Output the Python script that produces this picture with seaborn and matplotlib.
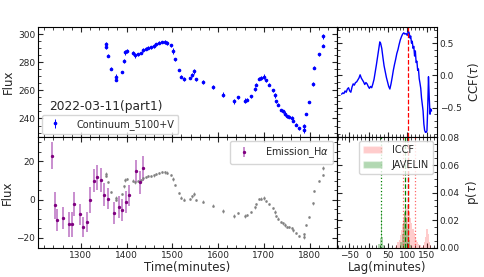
import numpy as np
import pandas as pd
import matplotlib
matplotlib.use("Agg")
import matplotlib.pyplot as plt
from matplotlib.ticker import AutoMinorLocator, MultipleLocator
from matplotlib.patches import Patch
import seaborn as sns

sns.set_style("ticks")
plt.rcParams['font.family'] = ['DejaVu Sans']

# ---------------- data ----------------
cont_time = [1354, 1355, 1360, 1366, 1376, 1377, 1389, 1394, 1397, 1401, 1414, 1418, 1424, 1431,
             1436, 1442, 1447, 1453, 1461, 1465, 1472, 1478, 1484, 1489, 1497, 1501, 1505, 1514,
             1520, 1526, 1538, 1544, 1547, 1551, 1568, 1590, 1611, 1636, 1643, 1658, 1663, 1671,
             1680, 1682, 1689, 1694, 1700, 1705, 1711, 1720, 1724, 1727, 1732, 1738, 1743, 1746,
             1751, 1756, 1762, 1765, 1771, 1777, 1788, 1789, 1793, 1799, 1807, 1810, 1820, 1829, 1830]
cont_flux = [293.0, 290.8, 284.7, 275.3, 269.8, 267.5, 273.0, 280.8, 287.0, 288.0, 286.4, 284.8,
             285.6, 286.5, 288.5, 289.5, 290.3, 290.6, 291.5, 292.8, 293.9, 294.3, 294.5, 293.8,
             292.0, 288.0, 282.0, 274.5, 269.8, 268.0, 268.7, 271.0, 273.5, 267.8, 265.8, 262.3,
             257.0, 252.2, 255.0, 252.5, 253.4, 255.7, 260.8, 264.0, 268.3, 268.9, 269.8, 267.0,
             264.0, 260.0, 256.4, 252.2, 249.8, 246.0, 245.0, 243.5, 241.6, 241.3, 240.6, 238.4,
             235.7, 232.9, 234.8, 231.8, 243.2, 251.7, 264.4, 276.2, 285.7, 291.7, 298.5]
cont_err = [1.5, 1.5, 1.0, 1.0, 1.5, 1.2, 1.0, 1.2, 1.8, 1.2, 1.2, 1.5, 1.0, 1.0, 1.5, 1.0, 1.0,
            1.0, 1.5, 1.0, 1.0, 1.0, 1.5, 1.5, 1.0, 2.0, 1.0, 1.0, 1.2, 1.5, 1.0, 1.2, 1.8, 1.0,
            1.5, 1.5, 1.8, 1.8, 1.2, 1.8, 1.2, 1.0, 1.5, 1.0, 1.0, 1.5, 1.8, 1.0, 1.0, 1.0, 1.8,
            1.2, 1.0, 1.0, 1.0, 1.5, 1.0, 1.0, 1.0, 1.2, 1.0, 1.0, 1.5, 1.8, 1.0, 1.0, 1.5, 1.2,
            1.0, 1.0, 1.8]

ha_time = [1237, 1243, 1249, 1260, 1274, 1280, 1285, 1298, 1304, 1314, 1320, 1329, 1335, 1344,
           1350, 1360, 1373, 1384, 1391, 1398, 1405, 1421, 1429, 1435]
ha_flux = [23.0, -3.0, -10.8, -9.5, -12.8, -12.8, -2.2, -7.6, -14.2, -11.6, -0.1, 10.0, 11.7,
           10.3, 2.6, 0.5, -6.8, -3.8, -5.4, -1.2, 2.2, 15.0, 9.1, 16.4]
ha_err = [6.9, 6.9, 5.8, 5.6, 6.5, 6.5, 6.3, 5.6, 5.2, 5.2, 6.8, 6.0, 6.5, 6.5, 6.0, 5.6, 5.8,
          5.6, 5.6, 5.6, 5.6, 5.8, 6.0, 6.5]

# continuum rescaled onto the H-alpha flux scale (gray points)
cont_scale = 0.5425
cont_ref = 294.3
ha_ref = 14.3

ccf_lag = [-70, -67, -64, -61, -58, -55, -52, -49, -46, -43, -40, -37, -34, -31, -28, -25, -22,
           -19, -16, -13, -10, -7, -4, -1, 2, 5, 8, 11, 14, 17, 20, 23, 26, 29, 31, 34, 37, 40,
           43, 46, 49, 52, 55, 58, 61, 64, 67, 70, 73, 76, 79, 82, 85, 88, 91, 94, 97, 100, 103,
           105, 107, 109, 111, 113, 115, 117, 119, 121, 123, 125, 127, 129, 131, 133, 135, 137,
           139, 141, 143, 145, 147, 149, 151, 153, 155, 157, 159, 161, 163]
ccf_val = [-0.29, -0.27, -0.28, -0.24, -0.26, -0.21, -0.19, -0.24, -0.26, -0.18, -0.13, -0.15,
           -0.11, -0.10, -0.07, -0.04, 0.01, -0.04, -0.07, -0.10, -0.14, -0.11, -0.13, -0.17,
           -0.20, -0.17, -0.19, -0.13, -0.06, 0.05, 0.16, 0.28, 0.40, 0.52, 0.50, 0.42, 0.28,
           0.15, 0.06, -0.03, -0.10, -0.17, -0.21, -0.13, -0.03, 0.08, 0.17, 0.25, 0.34, 0.40,
           0.48, 0.55, 0.60, 0.64, 0.66, 0.64, 0.65, 0.62, 0.68, 0.66, 0.58, 0.61, 0.50, 0.53,
           0.42, 0.45, 0.30, 0.38, 0.20, 0.22, 0.08, 0.10, -0.05, -0.12, -0.20, -0.35, -0.45,
           -0.55, -0.75, -0.85, -0.88, -0.88, -0.86, -0.50, -0.02, -0.35, -0.60, -0.52, -0.55]

iccf_lag = [70, 73, 76, 79, 82, 85, 88, 91, 94, 97, 100, 103, 106, 109, 112, 115, 118, 121, 124,
            127, 130, 133, 136, 139, 142, 145, 148, 151, 154, 157, 160]
iccf_p = [0.001, 0.002, 0.004, 0.006, 0.009, 0.013, 0.017, 0.021, 0.025, 0.028, 0.031, 0.030,
          0.026, 0.022, 0.018, 0.014, 0.011, 0.008, 0.006, 0.004, 0.003, 0.002, 0.001, 0.001,
          0.002, 0.004, 0.008, 0.014, 0.010, 0.004, 0.002]
jav_lag = [27, 30, 33, 36, 39, 84, 87, 90, 93, 96, 99, 102, 105, 108]
jav_p = [0.003, 0.007, 0.027, 0.008, 0.002, 0.004, 0.010, 0.018, 0.026, 0.028, 0.022, 0.014,
         0.006, 0.002]

iccf_lines = {"lo": 88, "med": 102, "hi": 120}
jav_lines = {"lo": 33, "med": 93, "hi": 101}

# ---------------- figure ----------------
fig = plt.figure(figsize=(4.85, 2.77), dpi=100)
gs = fig.add_gridspec(2, 2, width_ratios=[299, 100], left=0.078, right=0.901,
                      top=0.9025, bottom=0.105, hspace=0, wspace=0)
ax1 = fig.add_subplot(gs[0, 0])
ax2 = fig.add_subplot(gs[1, 0], sharex=ax1)
ax3 = fig.add_subplot(gs[0, 1])
ax4 = fig.add_subplot(gs[1, 1], sharex=ax3)

TICK = 6.5
LAB = 8.5

for ax in (ax1, ax2, ax3, ax4):
    ax.tick_params(which='both', direction='in', top=True, right=True, left=True, bottom=True,
                   labelsize=TICK, pad=2)
    ax.tick_params(which='major', length=3.5, width=0.8)
    ax.tick_params(which='minor', length=2, width=0.6)
    for s in ax.spines.values():
        s.set_linewidth(0.8)
        s.set_color('black')

# top-left continuum
ax1.errorbar(cont_time, cont_flux, yerr=cont_err, fmt='o', ms=1.6, color='blue',
             elinewidth=0.7, capsize=0, label='Continuum_5100+V')
ax1.set_ylim(226.5, 305)
ax1.set_xlim(1206, 1860)
ax1.yaxis.set_major_locator(MultipleLocator(20))
ax1.set_ylabel('Flux', fontsize=LAB, labelpad=2)
ax1.tick_params(labelbottom=False)
ax1.text(0.037, 0.225, '2022-03-11(part1)', transform=ax1.transAxes, fontsize=LAB + 0.3,
         ha='left', va='bottom')
ax1.legend(loc='lower left', fontsize=7, frameon=True, borderaxespad=0.4,
           handletextpad=1.2)

# bottom-left H-alpha
gray = [ha_ref + cont_scale * (f - cont_ref) for f in cont_flux]
gray_err = [cont_scale * e for e in cont_err]
ax2.errorbar(cont_time, gray, yerr=gray_err, fmt='o', ms=1.0, color='gray',
             elinewidth=0.6, capsize=0, alpha=0.8)
ax2.errorbar(ha_time, ha_flux, yerr=ha_err, fmt='o', ms=1.4, color='purple',
             ecolor=(0.62, 0.2, 0.66, 0.55), elinewidth=1.4, capsize=0,
             label=r'Emission_H$\alpha$')
ax2.set_ylim(-25.2, 32.5)
ax2.yaxis.set_major_locator(MultipleLocator(20))
ax2.xaxis.set_major_locator(MultipleLocator(100))
ax2.set_ylabel('Flux', fontsize=LAB, labelpad=2)
ax2.set_xlabel('Time(minutes)', fontsize=LAB, labelpad=1)
ax2.legend(loc='upper right', fontsize=7, frameon=True, borderaxespad=0.4,
           handletextpad=1.2)

# top-right CCF
ccf_df = pd.DataFrame({'lag': ccf_lag, 'ccf': ccf_val})
sns.lineplot(data=ccf_df, x='lag', y='ccf', ax=ax3, color='blue', linewidth=1.0)
ax3.axvline(iccf_lines['med'], color='red', ls='--', lw=0.9)
ax3.set_ylim(-0.96, 0.75)
ax3.set_xlim(-82, 177)
ax3.yaxis.set_major_locator(MultipleLocator(0.5))
ax3.set_xlabel('')
ax3.set_ylabel(r'CCF($\tau$)', fontsize=LAB, labelpad=3)
ax3.yaxis.set_label_position('right')
ax3.tick_params(labelleft=False, labelright=True, labelbottom=False)

# bottom-right lag distributions
bw = 3
iccf_df = pd.DataFrame({'lag': iccf_lag, 'p': iccf_p})
jav_df = pd.DataFrame({'lag': jav_lag, 'p': jav_p})
sns.histplot(data=iccf_df, x='lag', weights='p', binwidth=bw,
             binrange=(min(iccf_lag) - bw / 2, max(iccf_lag) + bw / 2), ax=ax4, color='red',
             alpha=0.2, linewidth=0, stat='count', element='step', fill=True)
sns.histplot(data=jav_df, x='lag', weights='p', binwidth=bw,
             binrange=(min(jav_lag) - bw / 2, max(jav_lag) + bw / 2), ax=ax4, color='green',
             alpha=0.3, linewidth=0, stat='count', element='step', fill=True)
ax4.axvline(iccf_lines['lo'], color='red', ls=':', lw=0.9, alpha=0.6)
ax4.axvline(iccf_lines['hi'], color='red', ls=':', lw=0.9, alpha=0.6)
ax4.axvline(jav_lines['lo'], color='green', ls=':', lw=0.9)
ax4.axvline(jav_lines['med'], color='green', ls='--', lw=0.9)
ax4.axvline(jav_lines['hi'], color='green', ls='--', lw=0.9)
ax4.axvline(iccf_lines['med'], color='red', ls='--', lw=0.9)
ax4.set_ylim(0, 0.08)
ax4.yaxis.set_major_locator(MultipleLocator(0.02))
ax4.xaxis.set_major_locator(MultipleLocator(50))
ax4.set_xlim(-82, 177)
ax4.set_xlabel('Lag(minutes)', fontsize=LAB, labelpad=1)
ax4.set_ylabel(r'p($\tau$)', fontsize=LAB, labelpad=3)
ax4.yaxis.set_label_position('right')
ax4.tick_params(labelleft=False, labelright=True)
handles = [Patch(facecolor='red', alpha=0.2, label='ICCF'),
           Patch(facecolor='green', alpha=0.3, label='JAVELIN')]
ax4.legend(handles=handles, loc='upper right', fontsize=7, frameon=True,
           borderaxespad=0.4, handletextpad=1.0)

for ax in (ax1, ax2, ax3, ax4):
    ax.xaxis.set_minor_locator(AutoMinorLocator())
    ax.yaxis.set_minor_locator(AutoMinorLocator())

fig.savefig('out.png', dpi=100)
